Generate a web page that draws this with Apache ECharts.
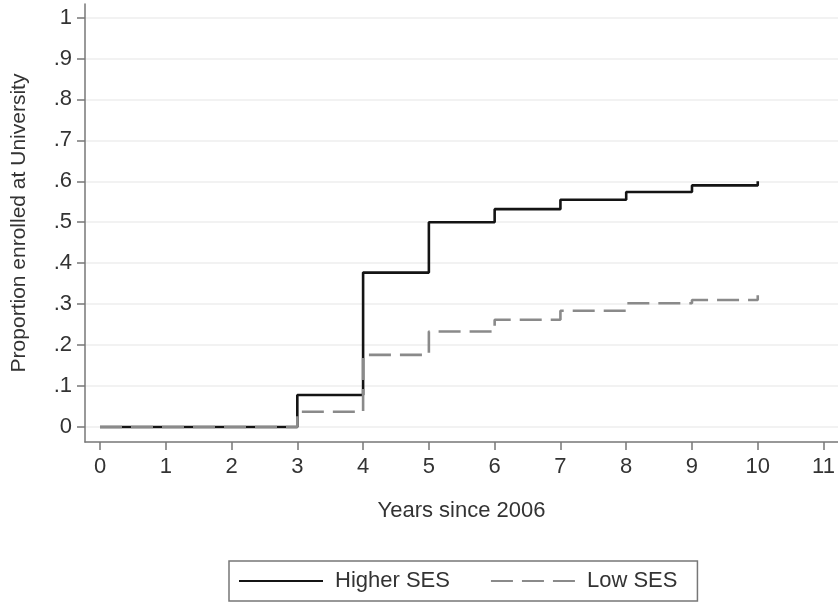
<!DOCTYPE html>
<html>
<head>
<meta charset="utf-8">
<script src="https://cdn.jsdelivr.net/npm/echarts@6/dist/echarts.min.js"></script>
<style>
html,body{margin:0;padding:0;background:#fff;}
#chart{width:838px;height:603px;}
</style>
</head>
<body>
<div id="chart"></div>
<script>
// Data (Kaplan-Meier style step curves)
const years = [0, 3, 4, 5, 6, 7, 8, 9, 10];
const higherSES = [0, 0.078, 0.377, 0.500, 0.532, 0.555, 0.574, 0.590, 0.600];
const lowSES = [0, 0.037, 0.176, 0.233, 0.262, 0.284, 0.302, 0.310, 0.322];

const xTicks = [0, 1, 2, 3, 4, 5, 6, 7, 8, 9, 10, 11];
const yTicks = [0, 0.1, 0.2, 0.3, 0.4, 0.5, 0.6, 0.7, 0.8, 0.9, 1];
const yTickLabels = ['0', '.1', '.2', '.3', '.4', '.5', '.6', '.7', '.8', '.9', '1'];

const seriesNames = ['Higher SES', 'Low SES'];
const xTitle = 'Years since 2006';
const yTitle = 'Proportion enrolled at University';

const FONT = '"Liberation Sans", Arial, Helvetica, sans-serif';
const TXT = '#333';
const AX = '#777';

function pairs(xs, ys) { return xs.map((x, i) => [x, ys[i]]); }
function yLabel(v) {
  for (let i = 0; i < yTicks.length; i++) {
    if (Math.abs(yTicks[i] - v) < 1e-6) return yTickLabels[i];
  }
  return '';
}

const chart = echarts.init(document.getElementById('chart'), null, {renderer: 'canvas'});
chart.setOption({
  animation: false,
  backgroundColor: '#fff',
  textStyle: {fontFamily: FONT, color: TXT},
  grid: {left: 85, top: 4, right: 0, bottom: 161, containLabel: false},
  xAxis: {
    type: 'value',
    min: -0.228,
    max: 11.22,
    name: xTitle,
    nameLocation: 'middle',
    nameGap: 58,
    nameTextStyle: {fontSize: 22, color: TXT, fontFamily: FONT},
    axisLine: {show: true, onZero: false, lineStyle: {color: AX, width: 1.5}},
    axisTick: {show: true, length: 8, lineStyle: {color: AX, width: 1.5}, customValues: xTicks},
    axisLabel: {show: true, fontSize: 22, color: TXT, margin: 14, fontFamily: FONT, customValues: xTicks},
    splitLine: {show: false}
  },
  yAxis: {
    type: 'value',
    min: -0.0367,
    max: 1.033,
    name: yTitle,
    nameLocation: 'middle',
    nameGap: 55,
    nameRotate: 90,
    nameTextStyle: {fontSize: 21, color: TXT, fontFamily: FONT},
    axisLine: {show: true, onZero: false, lineStyle: {color: AX, width: 1.5}},
    axisTick: {show: true, length: 8, lineStyle: {color: AX, width: 1.5}, customValues: yTicks},
    axisLabel: {show: true, fontSize: 22, color: TXT, margin: 13, fontFamily: FONT, customValues: yTicks, formatter: yLabel},
    splitLine: {show: true, lineStyle: {color: '#eeeeee', width: 1.5}}
  },
  legend: {
    left: 229,
    top: 561,
    orient: 'horizontal',
    padding: [9, 20, 9, 9],
    itemWidth: 84,
    itemHeight: 14,
    itemGap: 40,
    borderColor: '#777',
    borderWidth: 1.5,
    itemStyle: {opacity: 0},
    textStyle: {fontSize: 22, color: TXT, fontFamily: FONT, padding: [0, 0, 0, 7]},
    data: seriesNames
  },
  series: [
    {
      name: seriesNames[0],
      type: 'line',
      step: 'end',
      symbol: 'none',
      data: pairs(years, higherSES),
      lineStyle: {color: '#141414', width: 2.6, type: 'solid'},
      itemStyle: {color: '#141414'},
      z: 2
    },
    {
      name: seriesNames[1],
      type: 'line',
      step: 'end',
      symbol: 'none',
      data: pairs(years, lowSES),
      lineStyle: {color: '#8a8a8a', width: 2.6, type: [22, 9]},
      itemStyle: {color: '#8a8a8a'},
      z: 3
    }
  ]
});
</script>
</body>
</html>
